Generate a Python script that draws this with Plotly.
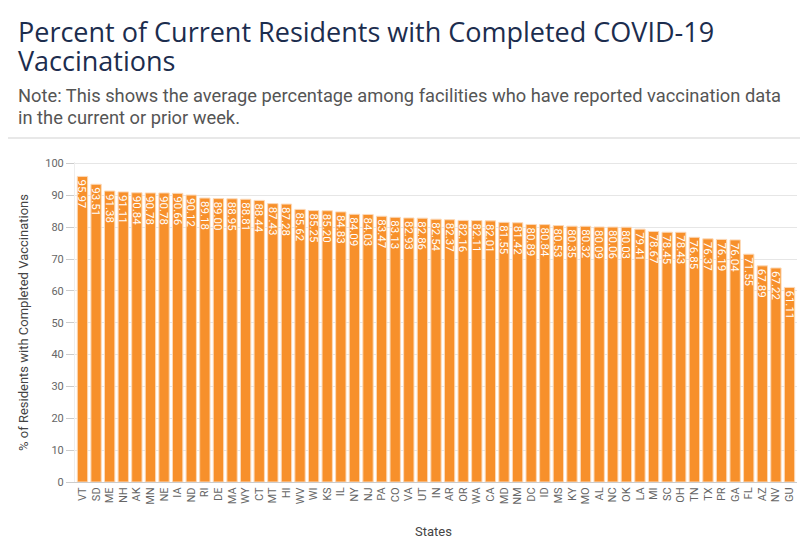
import plotly.graph_objects as go

states = ["VT","SD","ME","NH","AK","MN","NE","IA","ND","RI","DE","MA","WY","CT","MT","HI",
          "WV","WI","KS","IL","NY","NJ","PA","CO","VA","UT","IN","AR","OR","WA","CA","MD",
          "NM","DC","ID","MS","KY","MO","AL","NC","OK","LA","MI","SC","OH","TN","TX","PR",
          "GA","FL","AZ","NV","GU"]
values = [95.97,93.51,91.38,91.11,90.84,90.78,90.78,90.66,90.12,89.18,89.00,88.95,88.81,88.44,87.43,87.28,
          85.62,85.25,85.20,84.83,84.09,84.03,83.47,83.13,82.93,82.86,82.54,82.37,82.16,82.11,82.01,81.55,
          81.42,80.89,80.84,80.53,80.35,80.32,80.09,80.06,80.03,79.41,78.67,78.45,78.43,76.85,76.37,76.19,
          76.04,71.55,67.89,67.22,61.11]
y_ticks = [0,10,20,30,40,50,60,70,80,90,100]

title_lines = ["Percent of Current Residents with Completed COVID-19", "Vaccinations"]
note_lines = ["Note: This shows the average percentage among facilities who have reported vaccination data",
              "in the current or prior week."]

fig = go.Figure(go.Bar(
    x=states, y=values,
    text=[f"{v:.2f}" for v in values],
    textposition="inside", insidetextanchor="end", textangle=90,
    constraintext="none",
    textfont=dict(color="white", size=11.5, family="Roboto"),
    marker=dict(color="#F7902B", line=dict(color="#FCD9B8", width=1)),
    hoverinfo="x+y",
))

# the page body adds an 8px offset; page coordinates below are converted
OFF = 8
W, H = 800, 550
PL, PR, PT, PB = 75, 797, 162, 482   # plot area in page pixels
ml, mr, mt, mb = PL - OFF, W - (PR - OFF), PT - OFF, H - (PB - OFF)
pw = W - ml - mr
ph = H - mt - mb
def px(pix):
    return (pix - OFF - ml) / pw
def py(pix):
    return (H - mb - (pix - OFF)) / ph

anns = []
for line, yc in zip(title_lines, [31, 61]):
    anns.append(dict(text=line, xref="paper", yref="paper", x=px(16), y=py(yc),
                     xanchor="left", yanchor="middle", showarrow=False,
                     font=dict(family="Open Sans", size=27, color="#1C2D4E")))
for line, yc in zip(note_lines, [96, 117]):
    anns.append(dict(text=line, xref="paper", yref="paper", x=px(16), y=py(yc),
                     xanchor="left", yanchor="middle", showarrow=False,
                     font=dict(family="Roboto", size=18.3, color="#555555")))
anns.append(dict(text="% of Residents with Completed Vaccinations",
                 xref="paper", yref="paper", x=px(23), y=py(323), xanchor="center", yanchor="middle",
                 textangle=-90, showarrow=False,
                 font=dict(family="Roboto", size=13, color="#444444")))
anns.append(dict(text="States",
                 xref="paper", yref="paper", x=px(433), y=py(531), xanchor="center", yanchor="middle",
                 showarrow=False,
                 font=dict(family="Roboto", size=13, color="#444444")))

fig.update_layout(
    width=W, height=H,
    margin=dict(l=ml, r=mr, t=mt, b=mb, autoexpand=False),
    paper_bgcolor="white", plot_bgcolor="white",
    bargap=0.24,
    showlegend=False,
    annotations=anns,
    shapes=[
        dict(type="line", xref="paper", yref="paper", x0=px(0), x1=px(808), y0=py(138), y1=py(138),
             line=dict(color="#E0E0E0", width=1.5)),
    ],
    xaxis=dict(
        tickangle=-90, tickfont=dict(family="Roboto", size=11, color="#666666"),
        showline=True, linecolor="#CCCCCC", ticks="", range=[-0.55, len(states)-0.45],
        automargin=False,
    ),
    yaxis=dict(
        range=[0, 100.5], tickvals=y_ticks,
        tickfont=dict(family="Roboto", size=11, color="#666666"),
        gridcolor="#E6E6E6", zeroline=False,
        showline=True, linecolor="#EEEEEE",
        ticks="outside", ticklen=8, tickcolor="#CCCCCC",
        automargin=False,
    ),
)

fig.write_html("out.html")
